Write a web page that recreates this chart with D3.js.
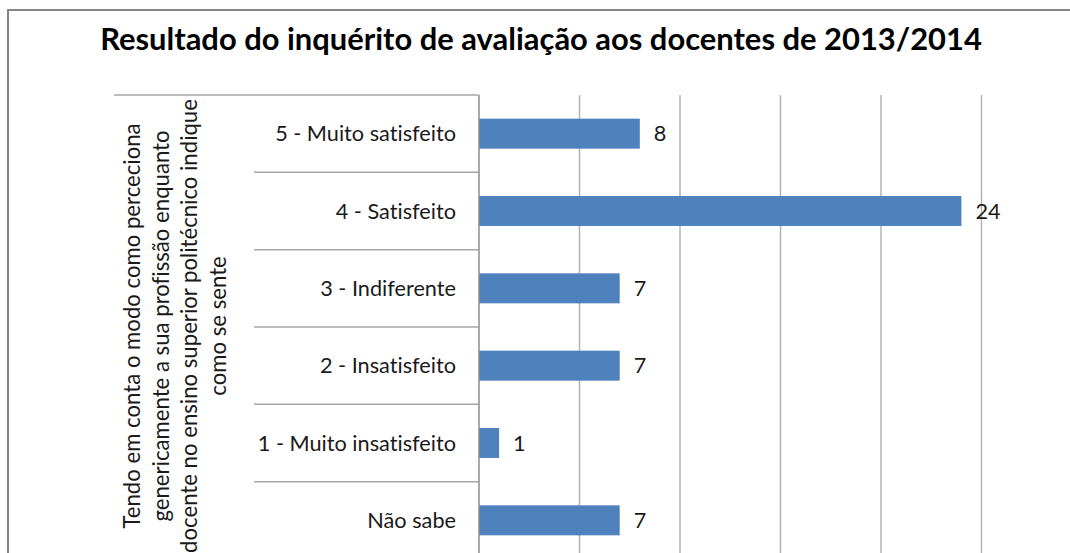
<!DOCTYPE html>
<html><head><meta charset="utf-8">
<script src="https://cdn.jsdelivr.net/npm/d3@7"></script>
<style>body{margin:0;background:#fff}svg{display:block}text{font-family:Lato,"Open Sans",sans-serif;font-variant-ligatures:none;font-feature-settings:"liga" 0}</style>
</head><body>
<svg id="c" width="1070" height="553"></svg>
<script>
const title = "Resultado do inquérito de avaliação aos docentes de 2013/2014";
const categories = ["5 - Muito satisfeito","4 - Satisfeito","3 - Indiferente","2 - Insatisfeito","1 - Muito insatisfeito","Não sabe"];
const values = [8,24,7,7,1,7];
const groupLabel = ["Tendo em conta o modo como perceciona","genericamente a sua profissão enquanto","docente no ensino superior politécnico indique","como se sente"];
const xTicks = [0,5,10,15,20,25,30];

const svg = d3.select("#c");
svg.append("rect").attr("x",8).attr("y",10).attr("width",1100).attr("height",600)
  .attr("fill","#fff").attr("stroke","#868686").attr("stroke-width",2);

const x = d3.scaleLinear().domain([0,30]).range([479,1082]);
const y = d3.scaleBand().domain(categories).range([95,559]).paddingInner(0).paddingOuter(0);

function fit(t, target){ const w=t.node().getComputedTextLength(); const fs=parseFloat(t.attr("font-size")); t.attr("font-size", fs*target/w); return fs*target/w; }

// title
const tt = svg.append("text").attr("x",541).attr("y",50).attr("text-anchor","middle")
  .attr("font-weight","bold").attr("font-size",26).attr("fill","#000").text(title);
fit(tt, 882);

// gridlines
svg.append("g").selectAll("line").data(xTicks.slice(1)).join("line")
  .attr("x1",d=>x(d)).attr("x2",d=>x(d)).attr("y1",95).attr("y2",559)
  .attr("stroke","#b4b4b4").attr("stroke-width",1.5);

// bars
const bh = 30;
svg.append("g").selectAll("rect").data(values).join("rect")
  .attr("x",x(0)).attr("y",(d,i)=>y(categories[i])+y.bandwidth()/2-bh/2)
  .attr("width",d=>x(d)-x(0)).attr("height",bh).attr("fill","#4f81bd");

// axis line
svg.append("line").attr("x1",479).attr("x2",479).attr("y1",95).attr("y2",559).attr("stroke","#8c8c8c").attr("stroke-width",1.5);

// category separators
svg.append("g").selectAll("line").data(categories.slice(1)).join("line")
  .attr("x1",254).attr("x2",479).attr("y1",d=>y(d)).attr("y2",d=>y(d))
  .attr("stroke","#a6a6a6").attr("stroke-width",1.5);
svg.append("line").attr("x1",114).attr("x2",479).attr("y1",95).attr("y2",95).attr("stroke","#a6a6a6").attr("stroke-width",1.5);

// category labels
const cl = svg.append("g").selectAll("text").data(categories).join("text")
  .attr("x",456).attr("y",d=>y(d)+y.bandwidth()/2).attr("dy","0.36em")
  .attr("text-anchor","end").attr("font-size",20).attr("fill","#1a1a1a").text(d=>d);
const fs = fit(d3.select(cl.nodes()[0]), 181);
cl.attr("font-size",fs);

// value labels
svg.append("g").selectAll("text").data(values).join("text")
  .attr("x",d=>x(d)+14).attr("y",(d,i)=>y(categories[i])+y.bandwidth()/2).attr("dy","0.36em")
  .attr("font-size",fs).attr("fill","#1a1a1a").text(d=>d);

// group label
const gl = svg.append("g");
const gtexts = gl.selectAll("text").data(groupLabel).join("text")
  .attr("transform",(d,i)=>`translate(${140+i*28.7},326) rotate(-90)`)
  .attr("text-anchor","middle").attr("font-size",fs).attr("fill","#1a1a1a").text(d=>d);
const gfs = fit(d3.select(gtexts.nodes()[0]), 405);
gtexts.attr("font-size",gfs);
</script>
</body></html>
